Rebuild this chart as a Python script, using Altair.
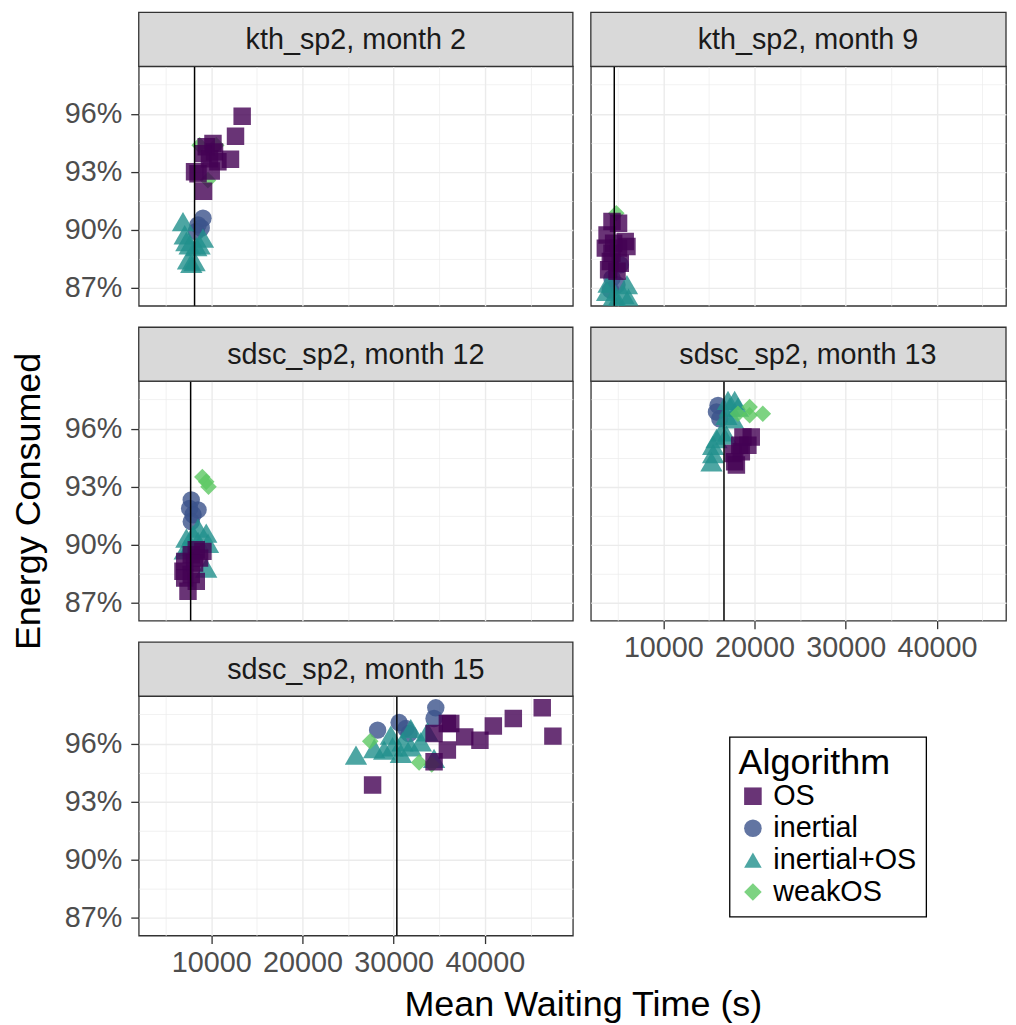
import altair as alt
import pandas as pd

# ---------------- data ----------------
ALGOS = ["OS", "inertial", "inertial+OS", "weakOS"]
COLORS = ["#440154", "#3B528B", "#21908C", "#5DC863"]
SHAPES = ["square", "circle", "triangle-up", "diamond"]
DRAW_ORDER = ["inertial", "inertial+OS", "weakOS", "OS"]

panel_titles = ["kth_sp2, month 2", "kth_sp2, month 9", "sdsc_sp2, month 12",
                "sdsc_sp2, month 13", "sdsc_sp2, month 15"]
ref_lines = [8170, 4620, 7740, 16650, 30350]

# panel 1: kth_sp2, month 2
p1_os_x = [13390, 12660, 12110, 10000, 9160, 8550, 9450, 10190, 10360, 9810, 9090, 10730, 8170]
p1_os_y = [95.87, 94.84, 93.65, 93.04, 92.0, 92.9, 94.29, 94.46, 94.03, 93.68, 93.94, 93.52, 93.0]
p1_in_x = [9090, 8550, 8360, 8900]
p1_in_y = [90.6, 90.26, 89.92, 90.1]
p1_io_x = [6900, 7090, 7270, 7630, 9090, 8360, 7450, 7810, 8170, 8720]
p1_io_y = [90.43, 89.75, 89.4, 89.23, 89.58, 89.14, 88.46, 88.28, 88.37, 89.23]
p1_wk_x = [8720, 10550, 9640]
p1_wk_y = [94.37, 94.37, 92.57]

# panel 2: kth_sp2, month 9
p2_os_x = [4370, 5090, 3830, 5820, 4550, 3640, 4370, 5090, 6010, 4190, 5280, 4000, 4920]
p2_os_y = [90.43, 90.34, 89.74, 89.4, 89.31, 89.06, 88.8, 89.06, 89.14, 88.37, 88.28, 87.94, 87.86]
p2_in_x = [5280, 4370, 4920, 4190]
p2_in_y = [88.2, 87.51, 87.17, 86.9]
p2_io_x = [4000, 6010, 3830, 5640, 4550, 6180, 4920]
p2_io_y = [87.26, 87.17, 86.83, 86.66, 86.57, 86.48, 86.4]
p2_wk_x = [4840]
p2_wk_y = [90.86]

# panel 3: sdsc_sp2, month 12
p3_os_x = [8360, 9090, 7810, 8720, 7090, 8170, 6900, 7810, 7090, 8360, 7450]
p3_os_y = [89.74, 89.66, 89.49, 89.31, 89.14, 89.06, 88.63, 88.46, 88.28, 88.11, 87.6]
p3_in_x = [7810, 7630, 8550, 8000, 7810]
p3_in_y = [92.32, 91.88, 91.8, 91.55, 91.2]
p3_io_x = [8550, 8000, 9450, 7270, 8550, 9640, 7630, 7090, 9450]
p3_io_y = [90.86, 90.52, 90.6, 90.34, 90.17, 90.08, 89.91, 89.74, 88.8]
p3_wk_x = [9020, 9450, 9700]
p3_wk_y = [93.5, 93.26, 93.0]

# panel 4: sdsc_sp2, month 13
p4_os_x = [18730, 19640, 18370, 19270, 17640, 18550, 17820, 18010]
p4_os_y = [95.57, 95.57, 95.14, 95.14, 94.71, 94.8, 94.29, 94.12]
p4_in_x = [16000, 15830, 16190]
p4_in_y = [97.2, 96.86, 96.51]
p4_io_x = [17090, 17820, 17280, 18180, 16920, 17640, 16370, 15830, 15460, 15460, 15280, 16920]
p4_io_y = [97.46, 97.46, 97.11, 97.11, 96.69, 96.51, 95.83, 95.49, 95.14, 94.71, 94.29, 95.66]
p4_wk_x = [18180, 19460, 19460, 20910]
p4_wk_y = [96.77, 97.11, 96.69, 96.77]

# panel 5: sdsc_sp2, month 15
p5_os_x = [27690, 34430, 34430, 35890, 36260, 35890, 37790, 39460, 40930, 43120, 46290, 47460]
p5_os_y = [93.86, 95.06, 96.51, 97.03, 97.03, 95.66, 96.34, 96.17, 96.9, 97.29, 97.84, 96.38]
p5_in_x = [34620, 28240, 30600, 31330, 31690, 34430]
p5_in_y = [97.84, 96.69, 97.08, 96.77, 96.51, 97.29]
p5_io_x = [25870, 27870, 28960, 29880, 30970, 31880, 32980, 29690, 31880, 33710, 34430, 30790]
p5_io_y = [95.4, 95.74, 95.66, 95.83, 96.09, 95.83, 96.09, 96.43, 96.77, 96.6, 95.23, 95.49]
p5_wk_x = [27430, 32790, 34180]
p5_wk_y = [96.12, 95.02, 94.92]

panel_series = [
    {"OS": (p1_os_x, p1_os_y), "inertial": (p1_in_x, p1_in_y), "inertial+OS": (p1_io_x, p1_io_y), "weakOS": (p1_wk_x, p1_wk_y)},
    {"OS": (p2_os_x, p2_os_y), "inertial": (p2_in_x, p2_in_y), "inertial+OS": (p2_io_x, p2_io_y), "weakOS": (p2_wk_x, p2_wk_y)},
    {"OS": (p3_os_x, p3_os_y), "inertial": (p3_in_x, p3_in_y), "inertial+OS": (p3_io_x, p3_io_y), "weakOS": (p3_wk_x, p3_wk_y)},
    {"OS": (p4_os_x, p4_os_y), "inertial": (p4_in_x, p4_in_y), "inertial+OS": (p4_io_x, p4_io_y), "weakOS": (p4_wk_x, p4_wk_y)},
    {"OS": (p5_os_x, p5_os_y), "inertial": (p5_in_x, p5_in_y), "inertial+OS": (p5_io_x, p5_io_y), "weakOS": (p5_wk_x, p5_wk_y)},
]

x_breaks = [5000, 10000, 15000, 20000, 25000, 30000, 35000, 40000, 45000]
y_breaks = [87, 88.5, 90, 91.5, 93, 94.5, 96, 97.5]

# ---------------- styling ----------------
FONT = "Liberation Sans"
PANEL_H = 240
STRIP_H = 54
W_LEFT = 435
W_RIGHT = 416
Y_DOM = [86.08, 98.45]
X_DOM_LEFT = [2050, 49650]
X_DOM_RIGHT = [2050, 47573]

LEG = alt.Legend(title="Algorithm")

# marker areas: squares/circles default, bigger triangles, smaller diamonds
SIZE_ENC = alt.SizeValue(
    value=306,
    condition=[
        {"test": "datum.algo == 'inertial+OS'", "value": 500},
        {"test": "datum.algo == 'weakOS'", "value": 275},
    ],
)

x_grid_w = {"condition": {"test": "datum.value % 10000 != 0", "value": 0.7}, "value": 1.4}
x_tick_op = {"condition": {"test": "datum.value % 10000 != 0", "value": 0}, "value": 1}
y_grid_w = {"condition": {"test": "datum.value % 3 != 0", "value": 0.7}, "value": 1.4}
y_tick_op = {"condition": {"test": "datum.value % 3 != 0", "value": 0}, "value": 1}


def x_axis(show, title=False):
    kw = dict(values=x_breaks, grid=True, gridColor="#EBEBEB", gridWidth=x_grid_w, domain=False)
    if show:
        kw.update(labels=True, ticks=True, tickOpacity=x_tick_op, tickSize=8, tickWidth=1.3,
                  tickColor="#333333", labelExpr="datum.value % 10000 == 0 ? datum.value + '' : ''",
                  labelFontSize=28.8, labelColor="#4D4D4D", labelPadding=5, labelFont=FONT,
                  labelOverlap=False)
    else:
        kw.update(labels=False, ticks=False)
    if title:
        kw.update(title="Mean Waiting Time (s)", titleX=445, titleY=80, titleAlign="center",
                  titleBaseline="alphabetic", titleFontSize=36, titleFontWeight="normal",
                  titleColor="black", titleFont=FONT)
    else:
        kw.update(title=None)
    return alt.Axis(**kw)


def y_axis(show, title=False):
    kw = dict(values=y_breaks, grid=True, gridColor="#EBEBEB", gridWidth=y_grid_w, domain=False)
    if show:
        kw.update(labels=True, ticks=True, tickOpacity=y_tick_op, tickSize=8, tickWidth=1.3,
                  tickColor="#333333", labelExpr="datum.value % 3 == 0 ? datum.value + '%' : ''",
                  labelFontSize=28.8, labelColor="#4D4D4D", labelPadding=9, labelFont=FONT,
                  labelOverlap=False)
    else:
        kw.update(labels=False, ticks=False)
    if title:
        kw.update(title="Energy Consumed", titleX=-99, titleY=120, titleAngle=270,
                  titleAlign="center", titleBaseline="alphabetic", titleFontSize=36,
                  titleFontWeight="normal", titleColor="black", titleFont=FONT)
    else:
        kw.update(title=None)
    return alt.Axis(**kw)


def panel_df(i):
    rows = []
    for algo in DRAW_ORDER:
        xs, ys = panel_series[i][algo]
        for xv, yv in zip(xs, ys):
            rows.append({"wait": xv, "energy": yv, "algo": algo})
    return pd.DataFrame(rows)


def make_panel(i, width, xdom, show_x, show_y, xtitle=False, ytitle=False):
    xs = alt.Scale(domain=xdom, nice=False, zero=False)
    ys = alt.Scale(domain=Y_DOM, nice=False, zero=False)
    xax = x_axis(show_x, xtitle)
    yax = y_axis(show_y, ytitle)
    pts = alt.Chart(panel_df(i)).mark_point(filled=True, opacity=0.8, strokeWidth=0, clip=True).encode(
        x=alt.X("wait:Q", scale=xs, axis=xax),
        y=alt.Y("energy:Q", scale=ys, axis=yax),
        color=alt.Color("algo:N", scale=alt.Scale(domain=ALGOS, range=COLORS), legend=LEG),
        shape=alt.Shape("algo:N", scale=alt.Scale(domain=ALGOS, range=SHAPES), legend=LEG),
        size=SIZE_ENC,
    )
    rule = alt.Chart(pd.DataFrame({"wait": [ref_lines[i]]})).mark_rule(
        color="black", strokeWidth=1.5).encode(x=alt.X("wait:Q", scale=xs, axis=xax))
    sdf = pd.DataFrame({"panel": [panel_titles[i]]})
    strip_rect = alt.Chart(sdf).mark_rect(fill="#D9D9D9", stroke="#333333", strokeWidth=1.3).encode(
        x=alt.value(0), x2=alt.value(width), y=alt.value(-STRIP_H), y2=alt.value(0))
    strip_text = alt.Chart(sdf).mark_text(fontSize=28.8, color="#1A1A1A", baseline="alphabetic",
                                          align="center", font=FONT).encode(
        x=alt.value(217.5), y=alt.value(-17.3), text="panel:N")
    return alt.layer(pts, rule, strip_rect, strip_text).properties(width=width, height=PANEL_H)


p1 = make_panel(0, W_LEFT, X_DOM_LEFT, False, True)
p2 = make_panel(1, W_RIGHT, X_DOM_RIGHT, False, False)
p3 = make_panel(2, W_LEFT, X_DOM_LEFT, False, True, ytitle=True)
p4 = make_panel(3, W_RIGHT, X_DOM_RIGHT, True, False)
p5 = make_panel(4, W_LEFT, X_DOM_LEFT, True, True, xtitle=True)

chart = alt.concat(p1, p2, p3, p4, p5, columns=2,
                   spacing={"row": STRIP_H + 21.5, "column": 18},
                   bounds="flush").properties(
    padding={"left": 2, "top": 1.4, "right": 0, "bottom": 0}
).configure(font=FONT).configure_view(
    stroke="#333333", strokeWidth=1.3, fill="white"
).configure_legend(
    orient="none", legendX=592, legendY=672,
    strokeColor="black", strokeWidth=1.3, fillColor="white", padding=9,
    titleFontSize=36, titleFontWeight="normal", titleColor="black", titleFont=FONT,
    titlePadding=0, labelFontSize=28.8, labelColor="black", labelFont=FONT,
    labelOffset=6, rowPadding=2, symbolOpacity=0.8, symbolStrokeWidth=0, symbolSize=310
)

chart.save("out.html", embed_options={"renderer": "svg", "actions": False})
